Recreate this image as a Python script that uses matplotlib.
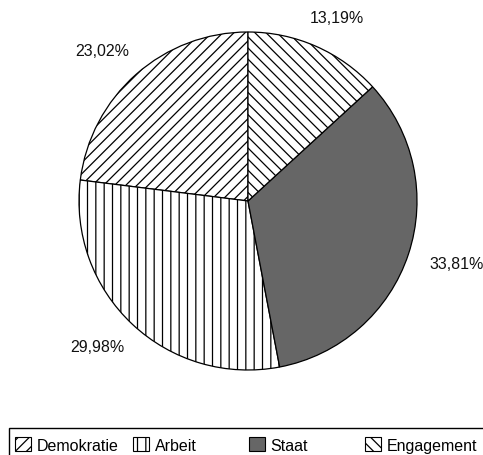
import matplotlib
matplotlib.use("Agg")
import numpy as np
import matplotlib.pyplot as plt
from matplotlib.patches import Rectangle, Patch

categories = ["Demokratie", "Arbeit", "Staat", "Engagement"]
values = [23.02, 29.98, 33.81, 13.19]

colors = ["white", "white", "#666666", "white"]
hatches = ["///", "||", None, "\\\\\\"]

plt.rcParams['font.family'] = ['Liberation Sans', 'DejaVu Sans']
plt.rcParams['hatch.linewidth'] = 0.9

W, H = 483, 456
fig = plt.figure(figsize=(W / 100, H / 100), dpi=100)
cx, cy, r = 248, 202, 169
ax = fig.add_axes([(cx - r) / W, (H - cy - r) / H, 2 * r / W, 2 * r / H])

def fmt(p):
    return f"{p:.2f}".replace(".", ",") + "%"

wedges, texts, autotexts = ax.pie(
    values, colors=colors, startangle=90, counterclock=True,
    autopct=fmt, pctdistance=1.2,
    wedgeprops=dict(edgecolor="black", linewidth=0.9),
    textprops=dict(fontsize=11.5, color="#111111"),
)
for w, h in zip(wedges, hatches):
    if h:
        w.set_hatch(h)
    w.set_clip_on(False)
ax.set_xlim(-1, 1)
ax.set_ylim(-1, 1)
ax.set_aspect("equal")
ax.axis("off")

# place labels outside the pie edge, box touching a ring (Excel-like)
fig.canvas.draw()
renderer = fig.canvas.get_renderer()
ring = 1.14
for w, t in zip(wedges, autotexts):
    th = np.deg2rad((w.theta1 + w.theta2) / 2)
    bb = t.get_window_extent(renderer)
    hw = bb.width / 2 / r
    hh = bb.height / 2 / r
    x = ring * np.cos(th) + hw * np.cos(th)
    y = ring * np.sin(th) + hh * np.sin(th)
    t.set_position((x, y))
    t.set_ha("center")
    t.set_va("center")

# legend frame
fig.patches.append(Rectangle((9 / W, 1 - 470 / H), 490 / W, 41 / H,
                             transform=fig.transFigure, fill=False,
                             edgecolor="black", linewidth=1.0))
xs = [15, 133, 249, 365]
for x, cat, c, h in zip(xs, categories, colors, hatches):
    handle = Patch(facecolor=c, edgecolor="black", hatch=h, linewidth=0.8)
    fig.legend([handle], [cat], loc="center left",
               bbox_to_anchor=(x / W, 1 - 446 / H), frameon=False,
               fontsize=11.5, handlelength=1.0, handleheight=0.95,
               handletextpad=0.35, borderpad=0, borderaxespad=0)

fig.savefig("out.png", dpi=100)
